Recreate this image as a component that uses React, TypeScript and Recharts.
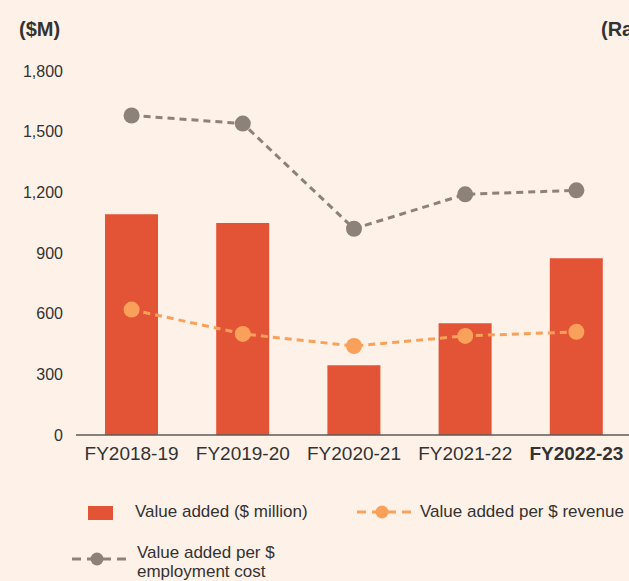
import React from "react";
import { ComposedChart, Bar, Line, XAxis, YAxis } from "recharts";

const years = ["FY2018-19", "FY2019-20", "FY2020-21", "FY2021-22", "FY2022-23"];
const valueAdded = [1092, 1048, 345, 552, 874];
const perRevenue = [0.62, 0.5, 0.44, 0.49, 0.51];
const perEmployment = [1.58, 1.54, 1.02, 1.19, 1.21];
const leftTicks = [0, 300, 600, 900, 1200, 1500, 1800];
const rightTicks = [0, 0.3, 0.6, 0.9, 1.2, 1.5, 1.8];

const data = years.map((year, i) => ({
  year,
  valueAdded: valueAdded[i],
  perRevenue: perRevenue[i],
  perEmployment: perEmployment[i],
}));

const FONT = "'Liberation Sans', Arial, sans-serif";
const BG = "#fef1e8";
const BAR = "#e35336";
const ORANGE = "#f9a15a";
const GRAY = "#8c8279";
const TEXT = "#333333";

function YearTick(props: any) {
  const { x, y, payload } = props;
  const last = payload.value === years[years.length - 1];
  return (
    <text x={x} y={y + 25} textAnchor="middle" fontSize={19} fill={TEXT} fontWeight={last ? 700 : 400} fontFamily={FONT}>
      {payload.value}
    </text>
  );
}

function LegendLine({ color }: { color: string }) {
  return (
    <svg width={56} height={20} style={{ display: "block" }}>
      <line x1={1} y1={10} x2={55} y2={10} stroke={color} strokeWidth={3} strokeDasharray="9 6" />
      <circle cx={26} cy={10} r={6.5} fill={color} />
    </svg>
  );
}

export default function App() {
  return (
    <div style={{ position: "absolute", left: 0, top: 0, width: 629, height: 581, overflow: "hidden", background: BG, fontFamily: FONT, color: TEXT }}>
      <div style={{ position: "absolute", left: 19, top: 18, fontSize: 20, fontWeight: 700 }}>($M)</div>
      <div style={{ position: "absolute", left: 601, top: 18, fontSize: 20, fontWeight: 700, whiteSpace: "nowrap" }}>(Ratio)</div>
      <ComposedChart width={700} height={581} data={data} margin={{ top: 71, right: 8, bottom: 106, left: 0 }}>
        <XAxis
          dataKey="year"
          height={40}
          tick={<YearTick />}
          tickLine={false}
          tickSize={0}
          tickMargin={0}
          axisLine={{ stroke: "#5a5a5a", strokeWidth: 1.5 }}
        />
        <YAxis
          yAxisId="left"
          width={76}
          domain={[0, 1800]}
          ticks={leftTicks}
          tickFormatter={(v: number) => v.toLocaleString("en-US")}
          tick={{ fontSize: 16, fill: TEXT, fontFamily: FONT }}
          tickLine={false}
          tickSize={0}
          tickMargin={13}
          axisLine={false}
        />
        <YAxis
          yAxisId="right"
          orientation="right"
          width={60}
          domain={[0, 1.8]}
          ticks={rightTicks}
          tick={false}
          tickLine={false}
          axisLine={false}
        />
        <Bar yAxisId="left" dataKey="valueAdded" fill={BAR} barSize={53} isAnimationActive={false} />
        <Line
          yAxisId="right"
          type="linear"
          dataKey="perRevenue"
          stroke={ORANGE}
          strokeWidth={3}
          strokeDasharray="7 5"
          dot={{ r: 8, fill: ORANGE, stroke: "none" }}
          activeDot={false}
          isAnimationActive={false}
        />
        <Line
          yAxisId="right"
          type="linear"
          dataKey="perEmployment"
          stroke={GRAY}
          strokeWidth={3}
          strokeDasharray="7 5"
          dot={{ r: 8, fill: GRAY, stroke: "none" }}
          activeDot={false}
          isAnimationActive={false}
        />
      </ComposedChart>
      <div style={{ position: "absolute", left: 88, top: 506, width: 25, height: 14, background: BAR }} />
      <div style={{ position: "absolute", left: 135, top: 502, fontSize: 17, whiteSpace: "nowrap" }}>Value added ($ million)</div>
      <div style={{ position: "absolute", left: 356, top: 502 }}>
        <LegendLine color={ORANGE} />
      </div>
      <div style={{ position: "absolute", left: 420, top: 502, fontSize: 17, whiteSpace: "nowrap" }}>Value added per $ revenue</div>
      <div style={{ position: "absolute", left: 71, top: 549 }}>
        <LegendLine color={GRAY} />
      </div>
      <div style={{ position: "absolute", left: 137, top: 543, fontSize: 17, lineHeight: "19px" }}>
        Value added per $<br />employment cost
      </div>
    </div>
  );
}
